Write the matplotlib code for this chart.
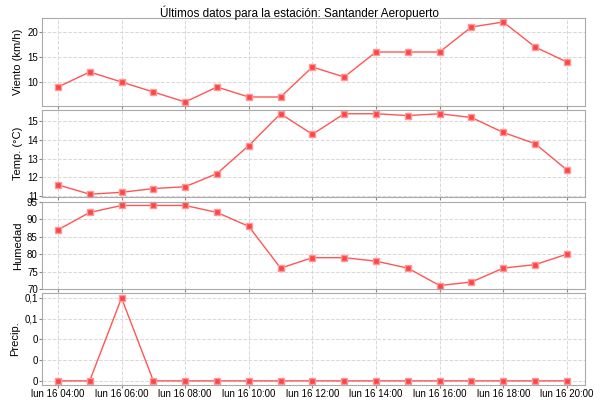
import matplotlib
matplotlib.use("Agg")
import matplotlib.pyplot as plt

hours = list(range(4, 21))
viento = [9, 12, 10, 8, 6, 9, 7, 7, 13, 11, 16, 16, 16, 21, 22, 17, 14]
temp = [11.6, 11.1, 11.2, 11.4, 11.5, 12.2, 13.7, 15.4, 14.3, 15.4, 15.4, 15.3, 15.4, 15.2, 14.4, 13.8, 12.4]
humedad = [87, 92, 94, 94, 94, 92, 88, 76, 79, 79, 78, 76, 71, 72, 76, 77, 80]
precip = [0, 0, 0.1, 0, 0, 0, 0, 0, 0, 0, 0, 0, 0, 0, 0, 0, 0]
xticks = [4, 6, 8, 10, 12, 14, 16, 18, 20]
xlabels = ["lun 16 %02d:00" % h for h in xticks]

plt.rcParams['font.family'] = ['Liberation Sans', 'DejaVu Sans']
fig = plt.figure(figsize=(6, 4), dpi=100)
W, H = 600, 400
boxes = [(18, 106), (110, 197), (202, 289), (293, 385)]
data = [viento, temp, humedad, precip]
names = ["Viento (km/h)", "Temp. (°C)", "Humedad", "Precip."]
ylims = [(5.2, 22.8), (10.95, 15.6), (70, 95), (-0.005, 0.106)]
yticks = [[10, 15, 20], [11, 12, 13, 14, 15], [70, 75, 80, 85, 90, 95],
          [0, 0.025, 0.05, 0.075, 0.1]]
ylabs = [None, None, None, ["0", "0", "0", "0,1", "0,1"]]
for i, (t, b) in enumerate(boxes):
    ax = fig.add_axes([42 / W, 1 - b / H, (585 - 42) / W, (b - t) / H])
    ax.plot(hours, data[i], color="#ff5555", lw=1, marker="s", ms=5,
            markeredgecolor="#ff9999", markerfacecolor="#ff4444", clip_on=False)
    ax.set_xlim(3.5, 20.57)
    ax.set_ylim(*ylims[i])
    ax.set_yticks(yticks[i])
    if ylabs[i]:
        ax.set_yticklabels(ylabs[i])
    ax.set_xticks(xticks)
    if i == 3:
        ax.set_xticklabels(xlabels)
    else:
        ax.set_xticklabels([])
    ax.tick_params(labelsize=7, length=2, color="#888888", pad=1)
    ax.grid(True, color="#d8d8d8", ls="--", lw=0.7)
    ax.set_axisbelow(True)
    for s in ax.spines.values():
        s.set_color("#aaaaaa")
    ax.set_ylabel(names[i], fontsize=8, labelpad=3)
fig.text(0.5, 0.985, "Últimos datos para la estación: Santander Aeropuerto",
         ha="center", va="top", fontsize=8.5)
fig.savefig("out.png")
